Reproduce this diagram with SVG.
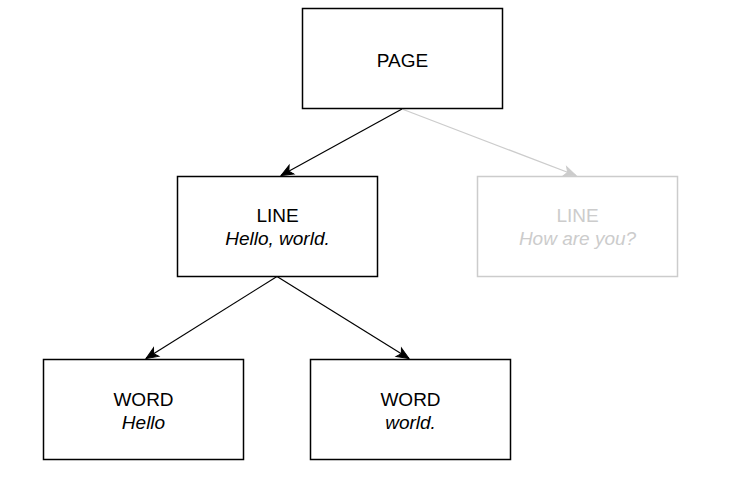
<svg xmlns="http://www.w3.org/2000/svg" width="737" height="500" viewBox="0 0 737 500">
  <style>
    .box { fill: #ffffff; stroke: #000000; stroke-width: 1.5; }
    .box.muted { stroke: #cccccc; }
    text { font-family: "Liberation Sans", Arial, Helvetica, sans-serif; font-size: 19px; text-anchor: middle; fill: #000000; }
    text.it { font-style: italic; }
    .muted-text { fill: #cccccc; }
    .edge { fill: none; stroke: #000000; stroke-width: 1.2; }
    .edge.muted { stroke: #cccccc; }
  </style>
  <defs>
    <marker id="arrow" markerUnits="userSpaceOnUse" markerWidth="14" markerHeight="12" refX="12" refY="5" orient="auto" overflow="visible">
      <path d="M0,0 L12,5 L0,10 L3,5 Z" fill="#000000" stroke="#000000" stroke-width="1"/>
    </marker>
    <marker id="arrow-muted" markerUnits="userSpaceOnUse" markerWidth="14" markerHeight="12" refX="12" refY="5" orient="auto" overflow="visible">
      <path d="M0,0 L12,5 L0,10 L3,5 Z" fill="#cccccc" stroke="#cccccc" stroke-width="1"/>
    </marker>
  </defs>

  <g id="connectors">
    <line class="edge" x1="402" y1="109" x2="281" y2="175.5" marker-end="url(#arrow)"/>
    <line class="edge muted" x1="402" y1="109" x2="576" y2="175.5" marker-end="url(#arrow-muted)"/>
    <line class="edge" x1="277" y1="276.5" x2="146" y2="358.5" marker-end="url(#arrow)"/>
    <line class="edge" x1="277" y1="276.5" x2="409" y2="358.5" marker-end="url(#arrow)"/>
  </g>

  <g id="page">
    <rect class="box" x="302.5" y="8.5" width="200" height="100"/>
    <text x="402.5" y="66.5">PAGE</text>
  </g>

  <g id="line1">
    <rect class="box" x="177.5" y="176.5" width="200" height="100"/>
    <text x="277.5" y="221.5">LINE</text>
    <text class="it" x="277.5" y="244.5">Hello, world.</text>
  </g>

  <g id="line2">
    <rect class="box muted" x="477.5" y="176.5" width="200" height="100"/>
    <text class="muted-text" x="577.5" y="221.5">LINE</text>
    <text class="it muted-text" x="577.5" y="244.5">How are you?</text>
  </g>

  <g id="word1">
    <rect class="box" x="43.5" y="359.5" width="200" height="100"/>
    <text x="143.5" y="405.5">WORD</text>
    <text class="it" x="143.5" y="429">Hello</text>
  </g>

  <g id="word2">
    <rect class="box" x="310.5" y="359.5" width="200" height="100"/>
    <text x="410.5" y="405.5">WORD</text>
    <text class="it" x="410.5" y="429">world.</text>
  </g>
</svg>
